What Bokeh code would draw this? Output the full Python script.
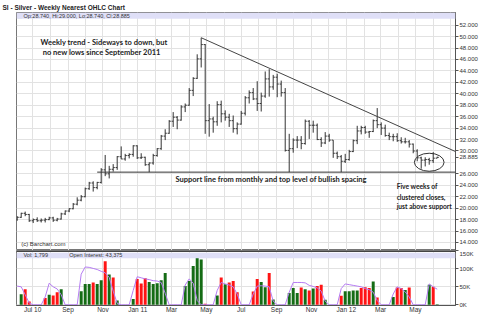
import datetime as dt
from bokeh.plotting import figure
from bokeh.layouts import column
from bokeh.models import (Range1d, FixedTicker, Label, BoxAnnotation, Span, Title,
                          ColumnDataSource, PrintfTickFormatter)
from bokeh.embed import file_html
from bokeh.resources import INLINE

# ---------------- data ----------------
first_week = dt.datetime(2010, 6, 4)

opens = [18.0, 18.4, 19.1, 18.9, 17.8, 18.0, 17.8, 17.9, 18.0, 18.3,
         17.9, 18.1, 19.0, 19.5, 19.9, 20.7, 21.4, 22.0, 23.4, 24.4,
         23.6, 24.5, 26.7, 26.0, 26.8, 27.1, 29.0, 28.6, 29.2, 29.4,
         30.9, 28.8, 28.9, 27.6, 27.9, 29.2, 30.4, 32.6, 33.1, 35.2,
         35.9, 35.4, 37.7, 38.0, 40.6, 42.7, 46.1, 48.6, 35.3, 35.6,
         35.1, 38.1, 36.5, 35.9, 35.3, 33.9, 34.7, 36.6, 39.3, 40.2,
         39.1, 38.3, 39.6, 42.6, 41.2, 42.9, 41.7, 40.2, 30.1, 30.4,
         31.9, 31.9, 31.3, 35.2, 34.5, 34.5, 32.0, 31.4, 32.6, 31.9,
         29.6, 29.0, 28.2, 28.5, 29.9, 31.8, 33.5, 34.1, 33.3, 33.4,
         35.3, 34.6, 34.0, 32.7, 32.5, 32.5, 31.8, 31.6, 31.6, 31.2,
         30.0, 28.8, 28.4, 28.5, 28.3, 28.74]
highs = [18.6, 19.2, 19.4, 19.0, 18.2, 18.4, 18.2, 18.3, 18.5, 18.5,
         18.3, 19.2, 19.6, 20.0, 20.9, 21.9, 22.3, 23.6, 24.6, 24.7,
         24.6, 27.0, 29.3, 27.4, 27.7, 29.1, 30.8, 29.5, 29.6, 31.0,
         31.0, 29.6, 29.0, 28.0, 29.5, 30.5, 32.8, 33.8, 35.4, 36.8,
         36.1, 38.0, 38.3, 41.0, 42.9, 46.9, 49.8, 48.7, 38.2, 36.0,
         38.7, 38.8, 37.1, 36.5, 36.2, 35.0, 37.0, 39.6, 40.6, 41.0,
         42.2, 40.2, 43.9, 44.3, 43.3, 43.5, 42.3, 41.0, 33.0, 32.2,
         32.6, 32.6, 35.5, 35.4, 35.3, 34.8, 32.4, 33.3, 33.0, 31.9,
         29.9, 29.3, 29.5, 30.2, 32.0, 34.4, 34.4, 34.4, 33.5, 35.5,
         37.5, 35.0, 34.6, 33.2, 33.0, 33.1, 32.4, 32.3, 31.9, 31.3,
         30.3, 29.0, 28.9, 28.8, 29.8, 29.0]
lows = [17.8, 18.3, 18.6, 17.6, 17.4, 17.6, 17.5, 17.5, 17.9, 17.6,
        17.7, 18.0, 18.8, 19.3, 19.8, 20.5, 21.2, 21.9, 23.2, 22.9,
        23.3, 24.3, 25.6, 25.2, 26.4, 26.7, 28.6, 28.3, 28.7, 29.0,
        28.6, 28.6, 27.4, 26.3, 27.6, 29.0, 30.2, 31.9, 33.0, 34.2,
        33.8, 35.3, 36.8, 37.9, 39.6, 42.6, 44.6, 33.0, 32.5, 33.2,
        34.4, 35.0, 35.3, 34.2, 33.2, 32.9, 34.6, 36.2, 38.3, 38.9,
        37.0, 36.9, 39.3, 39.5, 40.7, 39.4, 39.5, 29.9, 26.3, 29.7,
        30.5, 30.3, 31.1, 32.1, 33.2, 31.9, 30.7, 31.2, 31.6, 28.8,
        28.6, 26.3, 27.9, 28.3, 29.8, 31.2, 32.9, 33.0, 32.3, 33.3,
        34.0, 32.8, 32.5, 31.9, 31.7, 31.6, 31.3, 31.3, 30.6, 29.6,
        28.2, 26.9, 27.3, 27.6, 27.9, 28.74]
closes = [18.4, 19.1, 18.9, 17.8, 18.0, 17.8, 17.9, 18.0, 18.3, 17.9,
          18.1, 19.0, 19.5, 19.9, 20.7, 21.4, 22.0, 23.4, 24.4, 23.6,
          24.5, 26.7, 26.0, 26.8, 27.1, 29.0, 28.6, 29.2, 29.4, 30.9,
          28.8, 28.9, 27.6, 27.9, 29.2, 30.4, 32.6, 33.1, 35.2, 35.9,
          35.4, 37.7, 38.0, 40.6, 42.7, 46.1, 48.6, 35.3, 35.6, 35.1,
          38.1, 36.5, 35.9, 35.3, 33.9, 34.7, 36.6, 39.3, 40.2, 39.1,
          38.3, 39.6, 42.6, 41.2, 42.9, 41.7, 40.2, 30.1, 30.4, 31.9,
          31.9, 31.3, 35.2, 34.5, 34.5, 32.0, 31.4, 32.6, 31.9, 29.6,
          29.0, 28.2, 28.5, 29.9, 31.8, 33.5, 34.1, 33.3, 33.4, 35.3,
          34.6, 34.0, 32.7, 32.5, 32.5, 31.8, 31.6, 31.6, 31.2, 30.0,
          28.8, 28.4, 28.5, 28.3, 28.74, 28.885]

# weekly volume (thousands) and up(1)/down(0) colouring
vol_k = [0, 29, 43, 9, 0, 0, 0, 19, 28, 26,
         35, 43, 0, 0, 0, 0, 38, 58, 58, 62,
         58, 68, 121, 84, 76, 12, 0, 0, 0, 16,
         72, 59, 74, 63, 58, 60, 68, 88, 0, 0,
         0, 0, 52, 66, 108, 135, 126, 3, 0, 0,
         26, 76, 57, 62, 66, 35, 0, 0, 0, 37,
         72, 63, 49, 88, 15, 0, 0, 0, 33, 47,
         33, 48, 43, 40, 45, 52, 56, 14, 0, 0,
         0, 25, 38, 38, 40, 40, 47, 49, 47, 65,
         20, 0, 0, 0, 22, 48, 47, 41, 48, 0,
         0, 0, 0, 56, 50, 1.799]
vol_up = [1, 1, 0, 0, 1, 1, 1, 0, 1, 0,
          0, 1, 1, 1, 1, 1, 1, 1, 1, 0,
          1, 1, 0, 1, 0, 1, 1, 1, 1, 1,
          0, 0, 0, 1, 1, 1, 1, 1, 1, 1,
          1, 1, 1, 1, 1, 1, 1, 0, 1, 1,
          1, 0, 1, 0, 0, 0, 1, 1, 1, 0,
          0, 1, 1, 0, 1, 1, 1, 1, 1, 1,
          1, 0, 1, 0, 1, 0, 0, 1, 1, 1,
          1, 0, 1, 1, 1, 1, 0, 0, 0, 1,
          0, 1, 1, 1, 1, 0, 0, 1, 0, 1,
          1, 1, 1, 1, 0, 1]
# open interest (thousands)
oi_k = [52, 50, 28, 5, 0, 0, 0, 22, 60, 50,
        44, 28, 0, 0, 0, 0, 85, 105, 104, 101,
        98, 93, 89, 76, 38, 4, 0, 0, 0, 40,
        78, 75, 72, 70, 67, 66, 62, 32, 0, 0,
        0, 0, 55, 72, 60, 12, 0, 0, 0, 0,
        40, 62, 58, 55, 50, 30, 0, 0, 0, 30,
        52, 53, 52, 50, 10, 0, 0, 0, 35, 62,
        62, 62, 61, 54, 51, 47, 38, 10, 0, 0,
        0, 45, 58, 56, 54, 52, 50, 45, 42, 35,
        12, 0, 0, 0, 30, 50, 45, 36, 22, 0,
        0, 0, 0, 58, 50, 43.375]

price_ticks = [14, 16, 18, 20, 22, 24, 26, 28, 30, 32, 34, 36, 38, 40,
               42, 44, 46, 48, 50, 52]
vol_ticks = [0, 50000, 100000, 150000]
vol_tick_labels = ["0K", "50K", "100K", "150K"]
month_labels = [("2010-07", "Jul 10"), ("2010-09", "Sep"), ("2010-11", "Nov"),
                ("2011-01", "Jan 11"), ("2011-03", "Mar"), ("2011-05", "May"),
                ("2011-07", "Jul"), ("2011-09", "Sep"), ("2011-11", "Nov"),
                ("2012-01", "Jan 12"), ("2012-03", "Mar"), ("2012-05", "May")]

support_level = 26.3
trend_end_price = 29.9

# ---------------- helpers ----------------
EPOCH = dt.datetime(1970, 1, 1)
DAY_MS = 86400000


def to_ms(d):
    return int((d - EPOCH).total_seconds() * 1000)


dates = [first_week + dt.timedelta(days=7 * i) for i in range(len(closes))]
x_start = dt.datetime(2010, 6, 2, 19)
x_end = dt.datetime(2012, 7, 10)

months = []
yy, mm = 2010, 6
while (yy, mm) <= (2012, 7):
    months.append(dt.datetime(yy, mm, 1))
    mm += 1
    if mm > 12:
        mm, yy = 1, yy + 1
month_ms = [to_ms(m) for m in months]
label_ms = [to_ms(dt.datetime.strptime(k, "%Y-%m")) for k, _ in month_labels]

FONT = "Liberation Sans"
GRID = "#e2e2e2"
AXIS = "#555555"

PRICE_LO, PRICE_HI = 12.60, 54.21

x_range = Range1d(x_start, x_end)

# ---------------- price panel ----------------
p = figure(width=480, height=250, x_axis_type="datetime", x_axis_location=None,
           y_axis_location="right", x_range=x_range,
           y_range=Range1d(PRICE_LO, PRICE_HI),
           output_backend="svg", toolbar_location=None,
           min_border_left=16, min_border_right=23, min_border_top=12,
           min_border_bottom=0)
p.title = Title(text="SI - Silver - Weekly Nearest OHLC Chart", align="left",
                offset=-14, standoff=0, vertical_align="top",
                text_font=FONT, text_font_size="6.5px", text_font_style="bold",
                text_color="#222222")
p.outline_line_color = "#777777"
p.background_fill_color = "white"
p.border_fill_color = "white"

# axis ticks: the last close replaces the hidden 28.000 label (as on the source)
last_close = closes[-1]
axis_ticks = sorted([t for t in price_ticks if abs(t - last_close) > 1] + [last_close])
p.yaxis.ticker = FixedTicker(ticks=axis_ticks)
p.yaxis.formatter = PrintfTickFormatter(format="%.3f")
p.yaxis.major_label_text_font = FONT
p.yaxis.major_label_text_font_size = "6px"
p.yaxis.major_label_text_color = "#333333"
p.yaxis.major_label_standoff = 1
p.yaxis.major_tick_out = 3
p.yaxis.major_tick_in = 0
p.yaxis.minor_tick_line_color = None
p.yaxis.axis_line_color = AXIS
p.yaxis.major_tick_line_color = AXIS
p.ygrid.ticker = FixedTicker(ticks=price_ticks)
p.ygrid.grid_line_color = GRID
p.xgrid.ticker = FixedTicker(ticks=month_ms)
p.xgrid.grid_line_color = GRID

tick = dt.timedelta(days=2.8)
src = ColumnDataSource(dict(date=dates, o=opens, h=highs, l=lows, c=closes,
                            dl=[d - tick for d in dates],
                            dr=[d + tick for d in dates]))
bar_col = "#333333"
p.segment(x0="date", y0="l", x1="date", y1="h", source=src, line_color=bar_col, line_width=1)
p.segment(x0="dl", y0="o", x1="date", y1="o", source=src, line_color=bar_col, line_width=1)
p.segment(x0="date", y0="c", x1="dr", y1="c", source=src, line_color=bar_col, line_width=1)

# trend line from the peak, support line from the Jan-2011 low
peak_i = highs.index(max(highs))
p.line(x=[dates[peak_i], x_end], y=[highs[peak_i], trend_end_price],
       line_color="#444444", line_width=1)
low_i = lows.index(min(lows[20:40]))
p.line(x=[dates[low_i], x_end], y=[support_level, support_level],
       line_color="#333333", line_width=1)

# ellipse around the last five weeks
p.ellipse(x=[dt.datetime(2012, 5, 25)], y=[28.03], width=52 * DAY_MS, height=3.15,
          fill_color=None, line_color="#333333", line_width=1)

# header band
p.add_layout(BoxAnnotation(bottom=53.1, fill_color="#dfdff7", fill_alpha=1,
                           line_color=None))
p.scatter(x=[dt.datetime(2010, 6, 9)], y=[53.66], marker="square", size=4,
          fill_color="#1a6e1a", line_color="#1a6e1a")
p.add_layout(Label(x=dt.datetime(2010, 6, 15), y=53.66,
                   text=f"Op:{opens[-1]:.3f}, Hi:{highs[-1]:.3f}, Lo:{lows[-1]:.3f}, Cl:{closes[-1]:.3f}",
                   text_font=FONT, text_font_size="5.5px", text_color="#333333",
                   text_baseline="middle"))

# annotations
ANN = "Lato"
for txt, d, yv in [("Weekly trend - Sideways to down, but", dt.datetime(2010, 11, 3), 48.94),
                   ("no new lows since September 2011", dt.datetime(2010, 10, 30), 47.19)]:
    p.add_layout(Label(x=d, y=yv, text=txt, text_font=ANN, text_font_size="7.5px",
                       text_font_style="bold", text_color="#222222",
                       text_align="center", text_baseline="middle"))
p.add_layout(Label(x=dt.datetime(2011, 3, 8), y=25.0,
                   text="Support line from monthly and top level of bullish spacing",
                   text_font=ANN, text_font_size="7.5px", text_font_style="bold",
                   text_color="#222222", text_baseline="middle"))
for txt, yv in [("Five weeks of", 23.96), ("clustered closes,", 22.04),
                ("just above support", 20.46)]:
    p.add_layout(Label(x=dt.datetime(2012, 3, 29), y=yv, text=txt, text_font=ANN,
                       text_font_size="6.7px", text_font_style="bold",
                       text_color="#222222", text_baseline="middle"))
p.add_layout(Label(x=dt.datetime(2010, 6, 11), y=13.7, text="(c) Barchart.com",
                   text_font=FONT, text_font_size="6px", text_color="#333333",
                   text_baseline="middle"))

# ---------------- volume panel ----------------
pv = figure(width=480, height=76, x_axis_type="datetime", y_axis_location="right",
            x_range=x_range, y_range=Range1d(-1900, 150800), title=None,
            output_backend="svg", toolbar_location=None,
            min_border_left=16, min_border_right=23, min_border_top=0,
            min_border_bottom=21)
pv.outline_line_color = "#777777"
pv.background_fill_color = "white"
pv.border_fill_color = "white"

pv.yaxis.ticker = FixedTicker(ticks=vol_ticks)
pv.yaxis.major_label_overrides = {t: s for t, s in zip(vol_ticks, vol_tick_labels)}
pv.yaxis.major_label_text_font = FONT
pv.yaxis.major_label_text_font_size = "6px"
pv.yaxis.major_label_text_color = "#333333"
pv.yaxis.major_label_standoff = 1
pv.yaxis.major_tick_out = 3
pv.yaxis.major_tick_in = 0
pv.yaxis.minor_tick_line_color = None
pv.yaxis.axis_line_color = AXIS
pv.yaxis.major_tick_line_color = AXIS
pv.ygrid.ticker = FixedTicker(ticks=vol_ticks)
pv.ygrid.grid_line_color = GRID

pv.xaxis.ticker = FixedTicker(ticks=label_ms)
pv.xaxis.major_label_overrides = {t: s for t, (_, s) in zip(label_ms, month_labels)}
pv.xaxis.major_label_text_font = FONT
pv.xaxis.major_label_text_font_size = "6.5px"
pv.xaxis.major_label_text_color = "#333333"
pv.xaxis.major_label_standoff = 0
pv.xaxis.major_tick_out = 0
pv.xaxis.major_tick_in = 0
pv.xaxis.minor_tick_out = 0
pv.xaxis.minor_tick_in = 0
pv.xaxis.major_tick_line_color = None
pv.xaxis.minor_tick_line_color = None
pv.xaxis.axis_line_color = AXIS
pv.xgrid.ticker = FixedTicker(ticks=month_ms)
pv.xgrid.grid_line_color = GRID

vsrc = ColumnDataSource(dict(date=dates, vol=[v * 1000 for v in vol_k],
                             oi=[v * 1000 for v in oi_k],
                             color=["#156c15" if u else "#ff1414" for u in vol_up]))
pv.vbar(x="date", top="vol", width=5.2 * DAY_MS, fill_color="color",
        line_color=None, source=vsrc)
pv.line(x="date", y="oi", source=vsrc, line_color="#b57cf2", line_width=1)

pv.add_layout(BoxAnnotation(bottom=129400, top=144400, fill_color="#dfdff7",
                            fill_alpha=1, line_color=None))
pv.add_layout(Span(location=149500, dimension="width", line_color="#444444",
                   line_width=2))
pv.scatter(x=[dt.datetime(2010, 6, 9)], y=[137000], marker="square", size=4,
           fill_color="#1a6e1a", line_color="#1a6e1a")
pv.scatter(x=[dt.datetime(2010, 8, 27)], y=[137000], marker="square", size=4,
           fill_color="#c8a0f5", line_color="#b57cf2")
pv.add_layout(Label(x=dt.datetime(2010, 6, 15), y=137000,
                    text=f"Vol: {round(vol_k[-1] * 1000):,}",
                    text_font=FONT, text_font_size="5.5px", text_color="#333333",
                    text_baseline="middle"))
pv.add_layout(Label(x=dt.datetime(2010, 9, 3), y=137000,
                    text=f"Open Interest: {round(oi_k[-1] * 1000):,}",
                    text_font=FONT, text_font_size="5.5px", text_color="#333333",
                    text_baseline="middle"))

layout = column(p, pv, spacing=0)
open("out.html", "w").write(file_html(layout, INLINE))
